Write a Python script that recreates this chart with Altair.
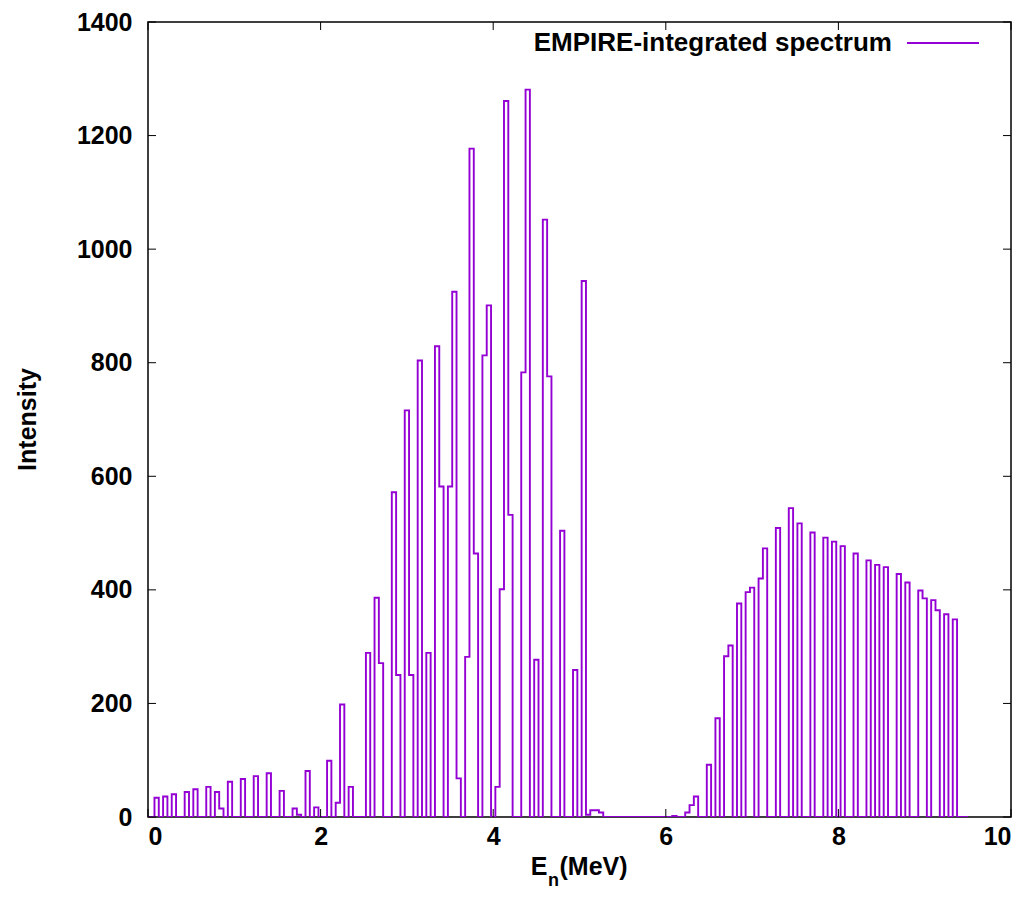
import altair as alt
import pandas as pd

# Bin centres every 0.05 MeV from 0 to 9.5 MeV (gnuplot histeps style)
bin_width = 0.05
intensity = [
    0, 0, 34, 0, 36, 0, 40, 0, 0, 44,
    0, 49, 0, 0, 53, 0, 44, 15, 0, 62,
    0, 0, 67, 0, 0, 72, 0, 0, 77, 0,
    0, 46, 0, 0, 15, 4, 0, 81, 0, 17,
    0, 0, 99, 0, 25, 198, 0, 53, 0, 0,
    0, 289, 0, 386, 271, 0, 0, 572, 250, 0,
    716, 250, 0, 804, 0, 289, 0, 829, 582, 0,
    582, 925, 68, 0, 282, 1177, 464, 0, 813, 901,
    0, 53, 401, 1261, 532, 0, 0, 783, 1281, 0,
    277, 0, 1052, 776, 0, 0, 504, 0, 0, 259,
    0, 944, 4, 12, 12, 8, 0, 0, 0, 0,
    0, 0, 0, 0, 0, 0, 0, 0, 0, 0,
    0, 0, 2, 0, 0, 8, 21, 36, 0, 0,
    92, 0, 174, 0, 283, 302, 0, 376, 0, 396,
    404, 0, 420, 473, 0, 0, 509, 0, 0, 544,
    0, 517, 0, 0, 501, 0, 0, 492, 0, 485,
    0, 477, 0, 0, 464, 0, 0, 452, 0, 444,
    0, 440, 0, 0, 428, 0, 413, 0, 0, 399,
    385, 0, 382, 364, 0, 357, 0, 348, 0, 0,
    0,
]
energy = [round(i * bin_width, 3) for i in range(len(intensity))]

x_ticks = [0, 2, 4, 6, 8, 10]
y_ticks = [0, 200, 400, 600, 800, 1000, 1200, 1400]

W, H = 863, 795
FONT = "Liberation Sans"
FS = 25
PURPLE = "#9400D3"

df = pd.DataFrame({"E": energy, "I": intensity})
xt = pd.DataFrame({"t": x_ticks})
yt = pd.DataFrame({"t": y_ticks})

xscale = alt.Scale(domain=[0, 10], nice=False, zero=False)
yscale = alt.Scale(domain=[0, 1400], nice=False)

line = alt.Chart(df).mark_line(
    interpolate="step", color=PURPLE, strokeWidth=1.9, clip=True
).encode(
    x=alt.X("E:Q", scale=xscale, axis=alt.Axis(
        values=x_ticks, format="d", ticks=False, domain=False, grid=False,
        labelFont=FONT, labelFontSize=FS, labelFontWeight="bold",
        labelColor="black", labelPadding=7, title=None)),
    y=alt.Y("I:Q", scale=yscale, axis=alt.Axis(
        values=y_ticks, format="d", ticks=False, domain=False, grid=False,
        labelFont=FONT, labelFontSize=FS, labelFontWeight="bold",
        labelColor="black", labelPadding=16, title=None)),
)

tick_len = 8
xt_bottom = alt.Chart(xt).mark_rule(color="black", strokeWidth=1).encode(
    x=alt.X("t:Q", scale=xscale), y=alt.value(H), y2=alt.value(H - tick_len))
xt_top = alt.Chart(xt).mark_rule(color="black", strokeWidth=1).encode(
    x=alt.X("t:Q", scale=xscale), y=alt.value(0), y2=alt.value(tick_len))
yt_left = alt.Chart(yt).mark_rule(color="black", strokeWidth=1).encode(
    y=alt.Y("t:Q", scale=yscale), x=alt.value(0), x2=alt.value(tick_len))
yt_right = alt.Chart(yt).mark_rule(color="black", strokeWidth=1).encode(
    y=alt.Y("t:Q", scale=yscale), x=alt.value(W), x2=alt.value(W - tick_len))

legend_text = alt.Chart(pd.DataFrame({"s": ["EMPIRE-integrated spectrum"]})).mark_text(
    font=FONT, fontSize=26, fontWeight="bold", align="right", baseline="middle",
    color="black"
).encode(text="s:N", x=alt.value(744), y=alt.value(21))
legend_line = alt.Chart(pd.DataFrame({"a": [0]})).mark_rule(
    color=PURPLE, strokeWidth=1.9
).encode(x=alt.value(759), x2=alt.value(831), y=alt.value(21))

ytitle = alt.Chart(pd.DataFrame({"s": ["Intensity"]})).mark_text(
    font=FONT, fontSize=FS, fontWeight="bold", angle=270, align="center",
    baseline="middle", color="black"
).encode(text="s:N", x=alt.value(-120), y=alt.value(H / 2))

xt_E = alt.Chart(pd.DataFrame({"s": ["E"]})).mark_text(
    font=FONT, fontSize=FS, fontWeight="bold", align="right",
    baseline="alphabetic", color="black"
).encode(text="s:N", x=alt.value(399.5), y=alt.value(853))
xt_n = alt.Chart(pd.DataFrame({"s": ["n"]})).mark_text(
    font=FONT, fontSize=18, fontWeight="bold", align="left",
    baseline="alphabetic", color="black"
).encode(text="s:N", x=alt.value(400), y=alt.value(864))
xt_rest = alt.Chart(pd.DataFrame({"s": ["(MeV)"]})).mark_text(
    font=FONT, fontSize=FS, fontWeight="bold", align="left",
    baseline="alphabetic", color="black"
).encode(text="s:N", x=alt.value(411.5), y=alt.value(853))

chart = alt.layer(
    line, xt_bottom, xt_top, yt_left, yt_right,
    legend_text, legend_line, ytitle, xt_E, xt_n, xt_rest
).properties(
    width=W, height=H,
    autosize=alt.AutoSizeParams(type="none"),
    padding={"left": 148, "top": 22, "right": 23, "bottom": 85},
    background="white",
).configure_view(stroke="black", strokeWidth=1.5)

chart.save("out.html", embed_options={"renderer": "svg", "actions": False})
